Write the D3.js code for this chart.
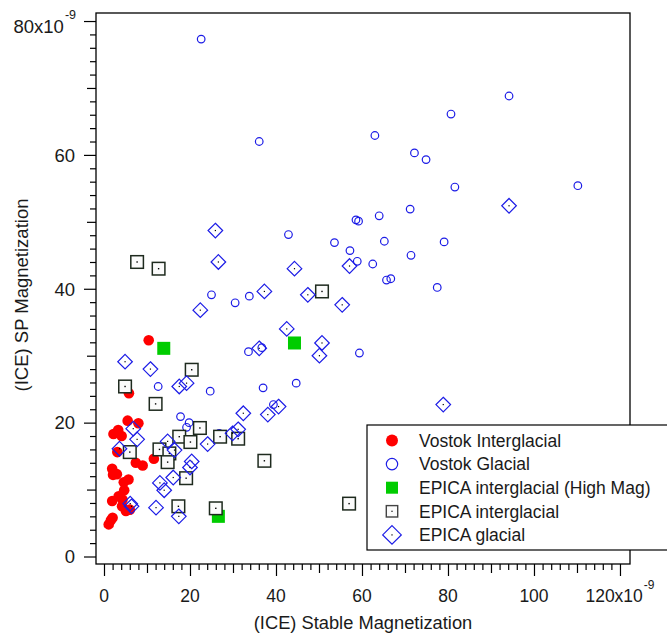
<!DOCTYPE html>
<html><head><meta charset="utf-8">
<script src="https://cdn.jsdelivr.net/npm/d3@7"></script>
<style>
body{margin:0;background:#fff}
svg{display:block;font-family:"Liberation Sans",Arial,Helvetica,sans-serif}
</style>
</head><body>
<svg id="chart" width="667" height="635"></svg>
<script>
// ---------- data (values in units of 1e-9) ----------
const vostokInterglacial = [
  [5.5,20.3],[8.0,19.9],[3.3,18.9],[2.2,18.3],[4.1,18.0],[3.1,15.6],[7.4,14.0],[9.0,13.6],
  [11.6,14.6],[1.9,13.1],[2.1,12.2],[3.0,12.3],[5.7,11.5],[4.6,11.1],[4.7,9.9],[3.4,9.0],
  [1.9,8.3],[4.3,8.5],[4.2,7.5],[5.1,6.8],[6.0,7.0],[2.0,5.8],[1.6,5.4],[1.1,4.8],
  [10.4,32.3],[5.8,24.4]
];
const vostokGlacial = [
  [22.6,77.3],[36.1,62.0],[94.2,68.8],[80.7,66.1],[63.0,62.9],[72.2,60.3],[74.9,59.3],
  [81.6,55.2],[110.2,55.4],[71.2,51.9],[64.0,50.9],[58.6,50.3],[59.2,50.1],[53.6,46.9],
  [65.2,47.1],[79.1,47.0],[57.2,45.7],[58.9,44.1],[62.5,43.7],[71.4,45.0],[65.7,41.3],
  [66.7,41.5],[77.5,40.2],[42.9,48.1],[25.0,39.1],[30.5,37.9],[33.8,38.9],[33.6,30.6],
  [36.7,31.2],[59.4,30.4],[44.7,25.9],[39.4,22.7],[37.0,25.2],[24.7,24.7],[12.6,25.4],
  [17.8,20.9],[19.8,20.0],[19.2,19.3],[26.8,18.4]
];
const epicaHighMag = [[13.9,31.1],[44.3,31.9],[26.6,6.0]];
const epicaInterglacial = [
  [7.7,44.0],[12.7,43.0],[50.7,39.6],[20.4,27.9],[4.9,25.4],[12.0,22.8],[22.3,19.2],
  [17.5,17.9],[20.1,17.1],[27.0,17.9],[31.2,17.6],[12.9,16.0],[15.2,15.4],[14.8,14.1],
  [19.1,11.7],[37.3,14.3],[17.3,7.5],[26.0,7.2],[57.0,7.9],[6.0,15.6]
];
const epicaGlacial = [
  [25.9,48.7],[26.6,44.0],[44.3,43.0],[57.1,43.4],[22.4,36.8],[37.3,39.6],[47.4,39.1],
  [55.4,37.6],[42.5,34.0],[50.7,31.9],[50.1,30.0],[36.1,31.1],[4.9,29.1],[10.8,28.0],
  [94.2,52.4],[78.9,22.7],[40.6,22.4],[17.5,25.4],[19.2,25.9],[32.4,21.4],[38.1,21.2],
  [31.2,19.0],[29.9,18.4],[24.1,16.8],[14.8,17.2],[16.4,15.9],[20.4,14.2],[20.0,13.3],
  [16.1,11.8],[13.0,11.0],[14.0,9.9],[12.1,7.3],[17.4,6.0],[6.8,19.1],[7.7,17.5],
  [3.6,16.1],[6.1,7.9],[6.4,7.5]
];
const seriesNames = ["Vostok Interglacial","Vostok Glacial","EPICA interglacial (High Mag)","EPICA interglacial","EPICA glacial"];
const xMajorTicks = [0,20,40,60,80,100,120];
const yMajorTicks = [0,20,40,60,80];
const xTickLabels = ["0","20","40","60","80","100","120x10"];
const yTickLabels = ["0","20","40","60","80x10"];
const exponentLabel = "-9";
const xTitle = "(ICE) Stable Magnetization";
const yTitle = "(ICE) SP Magnetization";

// ---------- layout ----------
const frame = {left:96, right:630, top:13, bottom:564};
const xDomain = [-1.86, 122.33];
const yDomain = [-1.12, 81.2];
const svg = d3.select("#chart");
const x = d3.scaleLinear().domain(xDomain).range([frame.left, frame.right]);
const y = d3.scaleLinear().domain(yDomain).range([frame.bottom, frame.top]);
const textColor = "#1a1a1a";

function tickLen(v){ return v % 20 === 0 ? 12 : (v % 10 === 0 ? 9 : 6); }

// x axis ticks
const xAxis = d3.axisBottom(x).tickValues(d3.range(0, 121, 2)).tickFormat("").tickSizeOuter(0);
const gx = svg.append("g").attr("transform", `translate(0,${frame.bottom})`).call(xAxis);
gx.select(".domain").remove();
gx.selectAll(".tick line").attr("y2", d => tickLen(d)).attr("stroke", "#000").attr("stroke-width", 1.2);

// y axis ticks
const yAxis = d3.axisLeft(y).tickValues(d3.range(0, 81, 2)).tickFormat("").tickSizeOuter(0);
const gy = svg.append("g").attr("transform", `translate(${frame.left},0)`).call(yAxis);
gy.select(".domain").remove();
gy.selectAll(".tick line").attr("x2", d => -tickLen(d)).attr("stroke", "#000").attr("stroke-width", 1.2);

// x tick labels
xMajorTicks.forEach((v, i) => {
  const t = svg.append("text").attr("x", x(v)).attr("y", 601.5)
    .attr("text-anchor", "middle").attr("font-size", 17.5).attr("fill", textColor)
    .text(xTickLabels[i]);
  if (i === xMajorTicks.length - 1) {
    t.append("tspan").attr("font-size", 12).attr("dy", -13).attr("dx", 1).text(exponentLabel);
  }
});
// y tick labels
yMajorTicks.forEach((v, i) => {
  const last = i === yMajorTicks.length - 1;
  const t = svg.append("text").attr("x", last ? 76 : 75).attr("y", y(v) + (last ? 11.5 : 6.8))
    .attr("text-anchor", "end").attr("font-size", 18.5).attr("fill", textColor)
    .text(yTickLabels[i]);
  if (last) {
    t.append("tspan").attr("font-size", 12.5).attr("dy", -14).attr("dx", 1).text(exponentLabel);
  }
});

// axis titles
svg.append("text").attr("x", (frame.left + frame.right) / 2).attr("y", 629)
  .attr("text-anchor", "middle").attr("font-size", 18.3).attr("fill", textColor).text(xTitle);
svg.append("text").attr("transform", `translate(27.5,295) rotate(-90)`)
  .attr("text-anchor", "middle").attr("font-size", 18.5).attr("fill", textColor).text(yTitle);

// ---------- marks ----------
const plot = svg.append("g");
const blue = "#1c1ce6";
const diamondPath = r => `M0,${-r}L${r},0L0,${r}L${-r},0Z`;

plot.selectAll(".vi").data(vostokInterglacial).join("circle")
  .attr("cx", d => x(d[0])).attr("cy", d => y(d[1])).attr("r", 5.3).attr("fill", "#ff0000");
plot.selectAll(".vg").data(vostokGlacial).join("circle")
  .attr("cx", d => x(d[0])).attr("cy", d => y(d[1])).attr("r", 3.8)
  .attr("fill", "none").attr("stroke", blue).attr("stroke-width", 1.2);
plot.selectAll(".hm").data(epicaHighMag).join("rect")
  .attr("x", d => x(d[0]) - 6.5).attr("y", d => y(d[1]) - 6.5).attr("width", 13).attr("height", 13)
  .attr("fill", "#00cc00");
const sq = plot.selectAll(".ei").data(epicaInterglacial).join("g")
  .attr("transform", d => `translate(${x(d[0])},${y(d[1])})`);
sq.append("rect").attr("x", -6.3).attr("y", -6.3).attr("width", 12.6).attr("height", 12.6)
  .attr("fill", "#fbfbfb").attr("stroke", "#1e2a1e").attr("stroke-width", 1.5);
sq.append("rect").attr("x", -0.7).attr("y", -0.7).attr("width", 1.4).attr("height", 1.4).attr("fill", "#000");
const dm = plot.selectAll(".eg").data(epicaGlacial).join("g")
  .attr("transform", d => `translate(${x(d[0])},${y(d[1])})`);
dm.append("path").attr("d", diamondPath(7.3)).attr("fill", "none").attr("stroke", blue).attr("stroke-width", 1.2);
dm.append("rect").attr("x", -0.6).attr("y", -0.6).attr("width", 1.2).attr("height", 1.2).attr("fill", "#000");

// frame
svg.append("rect").attr("x", frame.left).attr("y", frame.top)
  .attr("width", frame.right - frame.left).attr("height", frame.bottom - frame.top)
  .attr("fill", "none").attr("stroke", "#000").attr("stroke-width", 1.3);

// ---------- legend ----------
const lg = svg.append("g");
lg.append("rect").attr("x", 367).attr("y", 425).attr("width", 330).attr("height", 125)
  .attr("fill", "#fff").attr("stroke", "#000").attr("stroke-width", 1.2);
const rowY = i => 440.5 + i * 23.6;
const sx = 392;
lg.append("circle").attr("cx", sx).attr("cy", rowY(0)).attr("r", 6).attr("fill", "#ff0000");
lg.append("circle").attr("cx", sx).attr("cy", rowY(1)).attr("r", 5.7).attr("fill", "none").attr("stroke", blue).attr("stroke-width", 1.2);
lg.append("rect").attr("x", sx - 6).attr("y", rowY(2) - 6).attr("width", 12).attr("height", 12).attr("fill", "#00cc00");
lg.append("rect").attr("x", sx - 5.7).attr("y", rowY(3) - 5.7).attr("width", 11.4).attr("height", 11.4)
  .attr("fill", "#fbfbfb").attr("stroke", "#444").attr("stroke-width", 1.4);
lg.append("rect").attr("x", sx - 0.6).attr("y", rowY(3) - 0.6).attr("width", 1.2).attr("height", 1.2).attr("fill", "#000");
lg.append("path").attr("transform", `translate(${sx},${rowY(4)})`).attr("d", diamondPath(9.3))
  .attr("fill", "none").attr("stroke", blue).attr("stroke-width", 1.2);
lg.append("rect").attr("x", sx - 0.6).attr("y", rowY(4) - 0.6).attr("width", 1.2).attr("height", 1.2).attr("fill", "#000");
seriesNames.forEach((n, i) => {
  lg.append("text").attr("x", 419).attr("y", rowY(i) + 6.3).attr("font-size", 17.5)
    .attr("fill", textColor).text(n);
});
</script>
</body></html>
